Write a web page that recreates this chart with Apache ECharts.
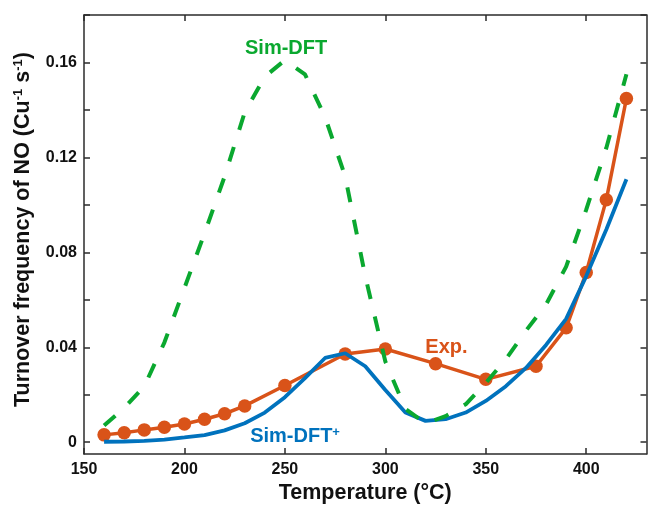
<!DOCTYPE html>
<html>
<head>
<meta charset="utf-8">
<script src="https://cdn.jsdelivr.net/npm/echarts@6/dist/echarts.min.js"></script>
<style>
  html, body { margin: 0; padding: 0; background: #ffffff; }
  #chart { width: 648px; height: 509px; }
</style>
</head>
<body>
<div id="chart"></div>
<script>
// Simulated curves, sampled every 10 °C
const simTemps = [160, 170, 180, 190, 200, 210, 220, 230, 240, 250, 260, 270, 280, 290,
                  300, 310, 320, 330, 340, 350, 360, 370, 380, 390, 400, 410, 420];
const simDft = [0.007, 0.0145, 0.0235, 0.042, 0.065, 0.088, 0.112, 0.139, 0.154, 0.161,
                0.155, 0.137, 0.112, 0.070, 0.034, 0.014, 0.008, 0.011, 0.016, 0.025,
                0.035, 0.047, 0.058, 0.074, 0.098, 0.124, 0.155];
const simDftPlus = [0.0002, 0.0003, 0.0006, 0.0011, 0.002, 0.003, 0.005, 0.008, 0.0125, 0.019,
                    0.027, 0.0355, 0.0375, 0.032, 0.022, 0.0125, 0.009, 0.0097, 0.0125, 0.0174,
                    0.0236, 0.0313, 0.041, 0.052, 0.070, 0.0896, 0.1108];

// Measured turnover frequencies
const expTemps = [160, 170, 180, 190, 200, 210, 220, 230, 250, 280, 300, 325, 350, 375, 390, 400, 410, 420];
const expTof = [0.0031, 0.0040, 0.0052, 0.0063, 0.0077, 0.0097, 0.0120, 0.0153, 0.0239, 0.0372,
                0.0393, 0.0331, 0.0265, 0.0320, 0.0482, 0.0715, 0.1022, 0.1448];

// Axis ticks and labels
const xTickValues = [150, 200, 250, 300, 350, 400];
const yLabelValues = [0, 0.04, 0.08, 0.12, 0.16];
const yTickValues = [0, 0.02, 0.04, 0.06, 0.08, 0.10, 0.12, 0.14, 0.16, 0.18];

const FONT = '"Liberation Sans", Arial, Helvetica, sans-serif';
const AXIS_COLOR = '#2b2b2b';
const GREEN = '#0aa82f';
const ORANGE = '#d95319';
const BLUE = '#0072bd';

const zip = (xs, ys) => xs.map((x, i) => [x, ys[i]]);

const axisLine = { show: true, onZero: false, lineStyle: { color: AXIS_COLOR, width: 1.5 } };
const tickStyle = { color: AXIS_COLOR, width: 1.5 };

// Curve annotation placed at a data coordinate
function textMark(coord, text, color, align, rich) {
  return {
    symbol: 'circle',
    symbolSize: 0,
    silent: true,
    animation: false,
    itemStyle: { color: 'transparent' },
    label: {
      show: true,
      position: 'inside',
      align: align,
      verticalAlign: 'middle',
      formatter: text,
      color: color,
      fontFamily: FONT,
      fontSize: 20,
      fontWeight: 'bold',
      rich: rich || {}
    },
    data: [{ coord: coord }]
  };
}

const chart = echarts.init(document.getElementById('chart'), null, { renderer: 'canvas' });

chart.setOption({
  animation: false,
  backgroundColor: '#ffffff',
  grid: { left: 84, right: 1.5, top: 15, bottom: 50, containLabel: false },
  xAxis: [
    {
      type: 'value', min: 150, max: 430, position: 'bottom',
      axisLine: axisLine,
      axisTick: { show: true, inside: true, length: 6, customValues: xTickValues, lineStyle: tickStyle },
      axisLabel: {
        show: true, customValues: xTickValues, margin: 7,
        color: '#111111', fontFamily: FONT, fontSize: 16, fontWeight: 'bold'
      },
      splitLine: { show: false },
      name: 'Temperature (°C)',
      nameLocation: 'middle',
      nameGap: 26,
      nameTextStyle: { color: '#111111', fontFamily: FONT, fontSize: 21.5, fontWeight: 'bold' }
    },
    {
      type: 'value', min: 150, max: 430, position: 'top',
      axisLine: axisLine,
      axisTick: { show: true, inside: true, length: 6, customValues: xTickValues, lineStyle: tickStyle },
      axisLabel: { show: false },
      splitLine: { show: false }
    }
  ],
  yAxis: [
    {
      type: 'value', min: -0.005, max: 0.18, position: 'left',
      axisLine: axisLine,
      axisTick: { show: true, inside: true, length: 6, customValues: yTickValues, lineStyle: tickStyle },
      axisLabel: {
        show: true, customValues: yLabelValues, margin: 7,
        formatter: v => (Math.abs(v) < 1e-9 ? '0' : v.toFixed(2)),
        color: '#111111', fontFamily: FONT, fontSize: 16, fontWeight: 'bold'
      },
      splitLine: { show: false },
      name: 'Turnover frequency of NO (Cu{sup|-1} s{sup|-1})',
      nameLocation: 'middle',
      nameGap: 50,
      nameTextStyle: {
        color: '#111111', fontFamily: FONT, fontSize: 21.5, fontWeight: 'bold',
        padding: [0, 0, 0, 10],
        rich: {
          sup: { fontFamily: FONT, fontSize: 13, fontWeight: 'bold', color: '#111111', verticalAlign: 'top' }
        }
      }
    },
    {
      type: 'value', min: -0.005, max: 0.18, position: 'right',
      axisLine: axisLine,
      axisTick: { show: true, inside: true, length: 6, customValues: yTickValues, lineStyle: tickStyle },
      axisLabel: { show: false },
      splitLine: { show: false }
    }
  ],
  series: [
    {
      name: 'Exp.',
      type: 'line',
      xAxisIndex: 0, yAxisIndex: 0,
      data: zip(expTemps, expTof),
      symbol: 'circle',
      symbolSize: 13.5,
      showSymbol: true,
      lineStyle: { color: ORANGE, width: 3.5 },
      itemStyle: { color: ORANGE },
      z: 2,
      markPoint: textMark([330.4, 0.0400], 'Exp.', ORANGE, 'center')
    },
    {
      name: 'Sim-DFT+',
      type: 'line',
      xAxisIndex: 0, yAxisIndex: 0,
      data: zip(simTemps, simDftPlus),
      symbol: 'none',
      lineStyle: { color: BLUE, width: 3.8 },
      z: 3,
      markPoint: textMark([232.7, 0.0025], 'Sim-DFT{sup|+}', BLUE, 'left', {
        sup: { fontFamily: FONT, fontSize: 13, fontWeight: 'bold', color: BLUE, verticalAlign: 'top' }
      })
    },
    {
      name: 'Sim-DFT',
      type: 'line',
      xAxisIndex: 0, yAxisIndex: 0,
      data: zip(simTemps, simDft),
      symbol: 'none',
      lineStyle: { color: GREEN, width: 4, type: [15, 18], cap: 'butt' },
      z: 4,
      markPoint: textMark([250.6, 0.1660], 'Sim-DFT', GREEN, 'center')
    }
  ]
});
</script>
</body>
</html>
